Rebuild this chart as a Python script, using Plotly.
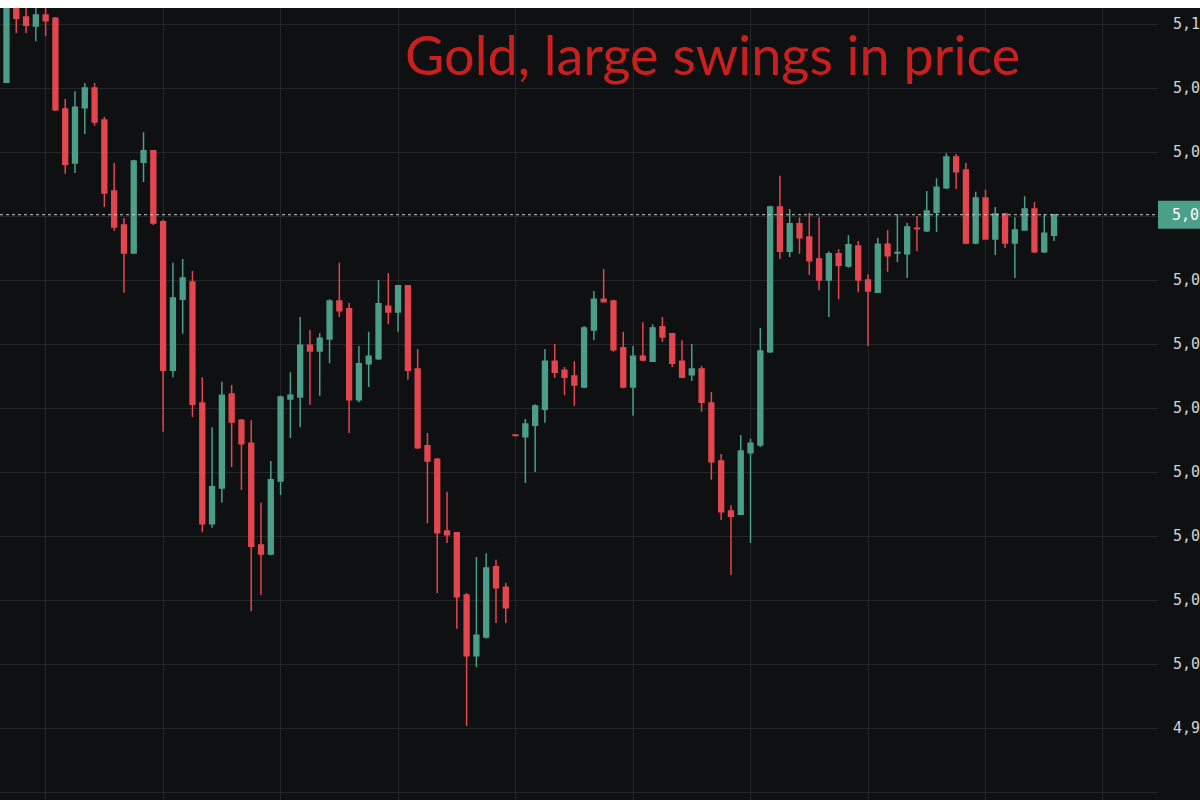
import plotly.graph_objects as go

# ---- data ----
opens = [5092.8, 5090.9, 5102.8, 5101.1, 5099.7, 5101.4, 5100.9, 5086.7, 5078.3, 5086.9,
         5090.0, 5085.0, 5073.9, 5068.6, 5064.2, 5078.4, 5080.2, 5069.1, 5045.9, 5057.0,
         5059.7, 5040.8, 5021.9, 5027.5, 5042.2, 5038.1, 5034.5, 5018.6, 5017.2, 5028.6,
         5041.4, 5041.7, 5049.8, 5048.9, 5050.8, 5056.7, 5055.5, 5041.3, 5046.9, 5047.7,
         5055.9, 5055.0, 5059.1, 5046.1, 5034.1, 5032.0, 5020.8, 5020.5, 5010.8, 5001.3,
         5004.2, 5015.2, 5012.0, 5035.8, 5035.5, 5037.3, 5039.8, 5047.3, 5045.9, 5045.0,
         5043.3, 5052.2, 5057.0, 5056.7, 5049.4, 5043.3, 5048.1, 5047.3, 5052.7, 5051.6,
         5047.3, 5045.2, 5046.1, 5040.8, 5031.7, 5023.9, 5023.4, 5033.0, 5034.2, 5048.8,
         5071.4, 5064.5, 5068.8, 5066.7, 5063.3, 5060.0, 5064.1, 5062.2, 5065.3, 5060.0,
         5058.1, 5065.6, 5064.2, 5064.1, 5068.1, 5067.7, 5070.6, 5074.4, 5079.2, 5077.2,
         5065.8, 5072.8, 5066.4, 5070.3, 5065.8, 5067.8, 5071.1, 5064.4, 5067.0]
highs = [5093.1, 5103.8, 5103.1, 5102.5, 5102.5, 5102.5, 5101.1, 5088.3, 5089.5, 5090.8,
         5090.8, 5085.5, 5078.3, 5069.7, 5078.8, 5083.1, 5080.3, 5069.4, 5062.7, 5063.3,
         5061.4, 5044.8, 5037.0, 5044.1, 5043.6, 5038.3, 5038.1, 5025.2, 5031.7, 5041.9,
         5045.6, 5054.2, 5052.2, 5051.7, 5057.0, 5062.7, 5056.4, 5049.7, 5051.9, 5060.0,
         5061.1, 5059.2, 5059.2, 5049.2, 5036.1, 5032.2, 5026.9, 5020.6, 5011.1, 5016.7,
         5017.3, 5016.3, 5012.7, 5035.9, 5038.3, 5040.6, 5049.2, 5050.0, 5046.4, 5047.3,
         5052.8, 5058.3, 5061.7, 5056.9, 5051.9, 5049.7, 5053.4, 5053.1, 5054.2, 5051.7,
         5050.6, 5050.0, 5046.6, 5042.5, 5032.8, 5024.8, 5035.8, 5035.2, 5052.5, 5071.6,
         5076.3, 5071.1, 5069.8, 5070.5, 5069.8, 5064.5, 5064.8, 5067.0, 5066.1, 5060.9,
         5066.6, 5067.8, 5070.3, 5068.9, 5070.0, 5073.9, 5075.9, 5079.8, 5079.7, 5078.3,
         5073.8, 5074.1, 5071.4, 5070.5, 5069.8, 5073.1, 5072.2, 5070.3, 5070.3]
lows = [5090.6, 5090.8, 5098.6, 5098.6, 5097.3, 5098.1, 5086.4, 5076.6, 5076.7, 5082.8,
        5084.1, 5071.4, 5067.7, 5058.0, 5064.1, 5075.3, 5068.6, 5036.3, 5044.8, 5051.6,
        5038.6, 5020.6, 5021.3, 5025.2, 5030.8, 5027.2, 5008.3, 5010.8, 5017.0, 5026.4,
        5035.3, 5037.0, 5040.5, 5041.9, 5047.0, 5054.2, 5036.1, 5040.9, 5043.3, 5047.5,
        5053.1, 5051.9, 5044.4, 5033.6, 5022.0, 5011.1, 5018.9, 5005.5, 4990.3, 4999.5,
        5004.0, 5006.4, 5006.4, 5035.6, 5028.3, 5030.0, 5037.7, 5044.7, 5042.0, 5040.3,
        5043.1, 5050.6, 5056.5, 5048.8, 5043.1, 5038.8, 5047.3, 5047.2, 5050.3, 5046.4,
        5044.7, 5044.2, 5039.4, 5028.8, 5022.5, 5013.9, 5023.3, 5018.9, 5033.9, 5048.6,
        5063.3, 5063.6, 5064.1, 5060.8, 5058.4, 5054.2, 5057.0, 5061.9, 5058.1, 5049.7,
        5058.0, 5061.3, 5062.8, 5060.3, 5064.5, 5067.5, 5067.5, 5074.2, 5074.2, 5065.6,
        5065.6, 5066.3, 5063.9, 5065.0, 5060.3, 5067.7, 5064.2, 5064.2, 5066.1]
closes = [5090.9, 5102.8, 5100.9, 5099.8, 5101.4, 5100.5, 5086.6, 5078.1, 5087.0, 5090.0,
          5084.7, 5073.6, 5068.3, 5064.2, 5078.6, 5080.2, 5068.9, 5045.9, 5057.2, 5060.3,
          5040.6, 5021.9, 5027.7, 5042.0, 5037.8, 5034.4, 5018.4, 5017.2, 5028.8, 5041.7,
          5042.0, 5049.8, 5048.9, 5050.9, 5056.7, 5055.2, 5041.3, 5046.9, 5048.1, 5056.3,
          5055.0, 5059.1, 5045.9, 5033.8, 5031.7, 5020.5, 5020.2, 5010.5, 5001.3, 5004.5,
          5015.0, 5011.9, 5008.8, 5035.7, 5037.5, 5040.3, 5047.3, 5045.6, 5044.8, 5043.6,
          5052.5, 5057.0, 5056.6, 5049.1, 5043.3, 5048.1, 5047.5, 5052.5, 5051.1, 5047.0,
          5044.8, 5046.1, 5040.9, 5031.6, 5023.8, 5023.1, 5033.3, 5034.5, 5048.9, 5071.4,
          5064.5, 5068.8, 5066.6, 5063.0, 5060.0, 5064.1, 5062.3, 5065.5, 5060.0, 5058.3,
          5065.6, 5063.8, 5064.3, 5068.3, 5068.0, 5070.8, 5074.5, 5079.2, 5076.9, 5065.8,
          5072.8, 5066.4, 5070.3, 5065.8, 5067.8, 5071.1, 5064.4, 5067.3, 5070.2]
bar_index = list(range(-1, len(opens) - 1))

title_text = "Gold, large swings in price"

UP = "#4b9e87"
DOWN = "#e3464e"
BG = "#0f1012"
GRID = "#26272a"

Y_RANGE = [4978.75, 5102.5]
PLOT_H = 800 - 8  # plot area height in px

fig = go.Figure(go.Candlestick(
    x=bar_index, open=opens, high=highs, low=lows, close=closes,
    increasing=dict(line=dict(color=UP, width=1.5), fillcolor=UP),
    decreasing=dict(line=dict(color=DOWN, width=1.5), fillcolor=DOWN),
    whiskerwidth=0, hoverinfo="none",
))

last_close = closes[-1]
last_paper = (last_close - Y_RANGE[0]) / (Y_RANGE[1] - Y_RANGE[0])
half_box = 14 / PLOT_H

fig.update_layout(
    width=1200, height=800,
    margin=dict(l=0, r=42, t=8, b=0),
    paper_bgcolor=BG, plot_bgcolor=BG,
    showlegend=False,
    xaxis=dict(range=[-0.66, 117.62], rangeslider=dict(visible=False),
               showgrid=True, gridcolor=GRID, gridwidth=1, tick0=4, dtick=12,
               showticklabels=False, zeroline=False, showline=False, ticks=""),
    yaxis=dict(range=Y_RANGE, side="right", showgrid=True, gridcolor=GRID,
               gridwidth=1, tick0=0, dtick=10, tickformat=",d", zeroline=False,
               showline=False, ticks="", ticklabelstandoff=14, automargin=False,
               tickfont=dict(family="DejaVu Sans Mono", size=15, color="#d2d3d6")),
    shapes=[
        dict(type="line", xref="paper", x0=0, x1=1, yref="paper", y0=last_paper, y1=last_paper,
             line=dict(color="#c9cacc", width=1, dash="dot")),
        dict(type="rect", xref="paper", x0=1.0, x1=1.1, yref="paper",
             y0=last_paper - half_box, y1=last_paper + half_box,
             fillcolor=UP, line=dict(width=0), layer="above"),
        dict(type="rect", xref="paper", x0=-0.05, x1=1.1, yref="paper", y0=1, y1=1.02,
             fillcolor="#ffffff", line=dict(width=0), layer="above"),
    ],
    annotations=[
        dict(text=title_text, xref="paper", yref="paper", x=0.615, y=0.941,
             xanchor="center", yanchor="middle", showarrow=False,
             font=dict(family="Lato", size=54, color="#c9201f")),
        dict(text=f"{last_close:,.0f}", xref="paper", yref="paper", x=1.0, y=last_paper,
             xanchor="left", yanchor="middle", showarrow=False, xshift=12,
             font=dict(family="DejaVu Sans Mono", size=15, color="#ffffff")),
    ],
)

fig.write_html("out.html", config={"displayModeBar": False},
               post_script="document.body.style.margin='0';document.body.style.overflow='hidden';")
